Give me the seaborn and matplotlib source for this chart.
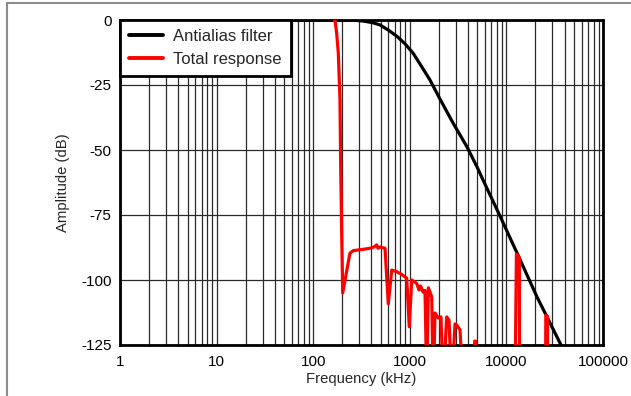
import numpy as np
import pandas as pd
import seaborn as sns
import matplotlib.pyplot as plt
from matplotlib.lines import Line2D
from matplotlib.ticker import LogLocator, FixedLocator

# Antialias filter curve (kHz, dB)
filter_freq = [1, 10, 100, 200, 270, 328, 410, 491, 595, 737, 890, 1079, 1320, 1619, 2054,
               2801, 3910, 4963, 5725, 8585, 12880, 20740, 35870, 42000]
filter_db = [0, 0, 0, -0.05, -0.12, -0.4, -1.0, -1.9, -3.8, -6.3, -9.1, -12.7, -17.8, -23.1,
             -30.4, -39.6, -48.8, -56.5, -61.5, -75.4, -89.6, -106.5, -124.2, -130]

# Total response (kHz, dB); values below -125 fall outside the axes
resp_freq = [165, 168, 175, 182, 189.4, 192.6, 197.2, 202, 240, 260, 330, 387, 426, 454,
             469, 492, 554, 599, 650, 731, 811, 929, 988, 1047, 1179, 1246, 1291, 1371,
             1437, 1497, 1555, 1687, 1752, 1823, 1973, 2103, 2223, 2409, 2546, 2716,
             2939, 3060, 3312, 3532, 4650, 4700, 4800, 4850, 12300, 12700, 13600, 13700,
             25400, 25600, 26650, 26800, 50000]
resp_db = [0, 0, -5.1, -12.8, -30.8, -56.4, -82, -105, -89.7, -88.7, -88.2, -87.8, -87.3,
           -86.5, -87.8, -87.3, -87.8, -109.2, -96.2, -96.8, -97.7, -99.3, -118, -100,
           -101.3, -103.8, -102.3, -104.6, -104, -140, -103, -106.5, -140, -112.7, -114.6,
           -114.2, -140, -114.2, -115.4, -140, -116.9, -117.3, -119.2, -140, -140, -123.5,
           -123.5, -140, -140, -90, -91.5, -140, -140, -113.5, -114, -140, -140]

series_names = ["Antialias filter", "Total response"]
series_colors = ["black", "red"]

df = pd.concat([
    pd.DataFrame({"freq": filter_freq, "db": filter_db, "series": series_names[0]}),
    pd.DataFrame({"freq": resp_freq, "db": resp_db, "series": series_names[1]}),
], ignore_index=True)

sns.set_theme(style="white")
plt.rcParams['font.family'] = ['Liberation Sans', 'DejaVu Sans']

fig = plt.figure(figsize=(6.31, 3.96), dpi=100)
ax = fig.add_axes([120 / 631, 1 - 345 / 396, 483 / 631, 325 / 396])

sns.lineplot(data=df, x="freq", y="db", hue="series", palette=series_colors,
             sort=False, estimator=None, linewidth=2.3, ax=ax, zorder=3)

ax.set_xscale("log")
ax.set_xlim(1, 100000)
ax.set_ylim(-125, 0)
ax.xaxis.set_major_locator(FixedLocator([1, 10, 100, 1000, 10000, 100000]))
ax.xaxis.set_minor_locator(LogLocator(base=10, subs=np.arange(2, 10), numticks=20))
ax.set_xticklabels(["1", "10", "100", "1000", "10000", "100000"])
ax.set_yticks([0, -25, -50, -75, -100, -125])
ax.set_yticklabels(["0", "-25", "-50", "-75", "-100", "-125"])
ax.tick_params(axis="both", which="both", length=0, labelsize=11, colors="black")
ax.tick_params(axis="x", pad=7)
ax.tick_params(axis="y", pad=6)

ax.grid(True, which="major", axis="both", color="#2a2a2a", linewidth=0.9)
ax.grid(True, which="minor", axis="x", color="#2a2a2a", linewidth=0.9)
ax.set_axisbelow(True)

for s in ax.spines.values():
    s.set_visible(True)
    s.set_color("black")
    s.set_linewidth(2)

ax.set_xlabel("Frequency (kHz)", fontsize=10.7, labelpad=2)
ax.set_ylabel("Amplitude (dB)", fontsize=10.7, labelpad=8)

leg = ax.legend(loc="upper left", borderaxespad=0, fancybox=False, framealpha=1,
                edgecolor="black", fontsize=12, handlelength=2.0, handletextpad=0.65,
                labelspacing=0.45, borderpad=0.55)
leg.get_frame().set_linewidth(2)
leg.set_zorder(5)
for h in leg.get_lines():
    h.set_linewidth(2.8)

# thin gray frame around the figure (left and top edges visible)
fig.add_artist(Line2D([7 / 631, 7 / 631], [0, 1 - 3 / 396], transform=fig.transFigure,
                      color="#8c8c8c", linewidth=1.5))
fig.add_artist(Line2D([7 / 631, 1], [1 - 3 / 396, 1 - 3 / 396], transform=fig.transFigure,
                      color="#8c8c8c", linewidth=1.5))

fig.savefig("out.png", dpi=100)
